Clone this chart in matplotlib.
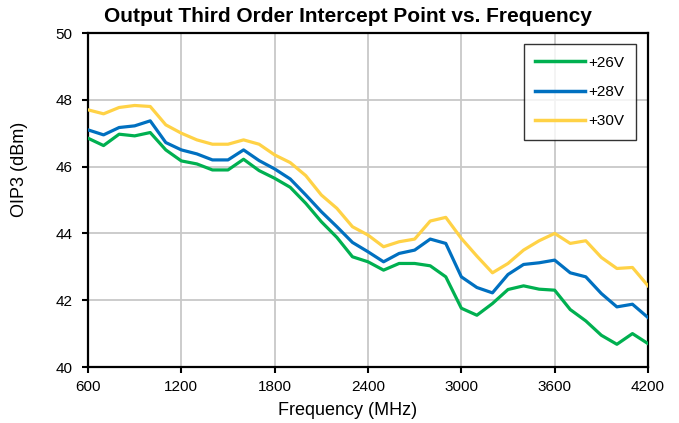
import matplotlib
matplotlib.use("Agg")
import matplotlib.pyplot as plt

freq = [600, 700, 800, 900, 1000, 1100, 1200, 1300, 1400, 1500, 1600, 1700, 1800, 1900,
        2000, 2100, 2200, 2300, 2400, 2500, 2600, 2700, 2800, 2900, 3000, 3100, 3200,
        3300, 3400, 3500, 3600, 3700, 3800, 3900, 4000, 4100, 4200]

oip3_26v = [46.85, 46.63, 46.97, 46.92, 47.02, 46.50, 46.17, 46.08, 45.90, 45.90, 46.22, 45.88,
            45.65, 45.38, 44.90, 44.35, 43.88, 43.30, 43.15, 42.90, 43.10, 43.10, 43.03, 42.70,
            41.76, 41.55, 41.90, 42.32, 42.43, 42.33, 42.30, 41.72, 41.38, 40.95, 40.68, 41.00, 40.70]

oip3_28v = [47.10, 46.95, 47.17, 47.22, 47.37, 46.72, 46.50, 46.38, 46.20, 46.20, 46.50, 46.18,
            45.93, 45.63, 45.15, 44.65, 44.20, 43.73, 43.45, 43.15, 43.40, 43.50, 43.83, 43.70,
            42.70, 42.38, 42.22, 42.77, 43.07, 43.12, 43.20, 42.82, 42.70, 42.20, 41.80, 41.88, 41.48]

oip3_30v = [47.70, 47.58, 47.77, 47.83, 47.80, 47.25, 47.00, 46.80, 46.67, 46.67, 46.80, 46.67,
            46.35, 46.12, 45.73, 45.15, 44.75, 44.20, 43.95, 43.60, 43.75, 43.83, 44.37, 44.48,
            43.85, 43.32, 42.82, 43.10, 43.50, 43.78, 44.00, 43.70, 43.78, 43.28, 42.95, 42.98, 42.43]

series_labels = ["+26V", "+28V", "+30V"]
x_ticks = [600, 1200, 1800, 2400, 3000, 3600, 4200]
y_ticks = [40, 42, 44, 46, 48, 50]

plt.rcParams["font.family"] = ["Liberation Sans", "DejaVu Sans"]

W, H = 679, 423
fig = plt.figure(figsize=(W / 100, H / 100), dpi=100)
ax = fig.add_axes([88 / W, 1 - 367 / H, (648 - 88) / W, (367 - 33) / H])

colors = ["#00B050", "#0070C0", "#FFD246"]
for ys, lab, c in zip([oip3_26v, oip3_28v, oip3_30v], series_labels, colors):
    ax.plot(freq, ys, color=c, lw=2.3, label=lab, solid_joinstyle="round", zorder=3)

ax.set_xlim(600, 4200)
ax.set_ylim(40, 50)
ax.set_xticks(x_ticks)
ax.set_yticks(y_ticks)
ax.tick_params(axis="both", labelsize=11, direction="out", length=4, width=1.5, colors="black")
ax.tick_params(axis="x", pad=5)
ax.tick_params(axis="y", pad=7)
ax.grid(True, color="#c8c8c8", lw=1.3, zorder=0)
ax.set_axisbelow(True)
for sp in ax.spines.values():
    sp.set_color("black")
    sp.set_linewidth(1.6)

fig.text(348 / W, 1 - 410 / H, "Frequency (MHz)", fontsize=13, ha="center", va="center")
fig.text(20 / W, 1 - 169.5 / H, "OIP3 (dBm)", fontsize=13, ha="center", va="center", rotation=90)
fig.text(348 / W, 1 - 16 / H, "Output Third Order Intercept Point vs. Frequency", fontsize=15,
         fontweight="bold", ha="center", va="center")

leg = ax.legend(loc="upper right", bbox_to_anchor=(0.9785, 0.9665), fontsize=11,
                frameon=True, fancybox=False, edgecolor="black", handlelength=3.3,
                handletextpad=0.2, labelspacing=1.0, borderpad=0.75, borderaxespad=0)
leg.get_frame().set_linewidth(1.0)
for line in leg.get_lines():
    line.set_linewidth(2.5)

fig.savefig("out.png", dpi=100)
